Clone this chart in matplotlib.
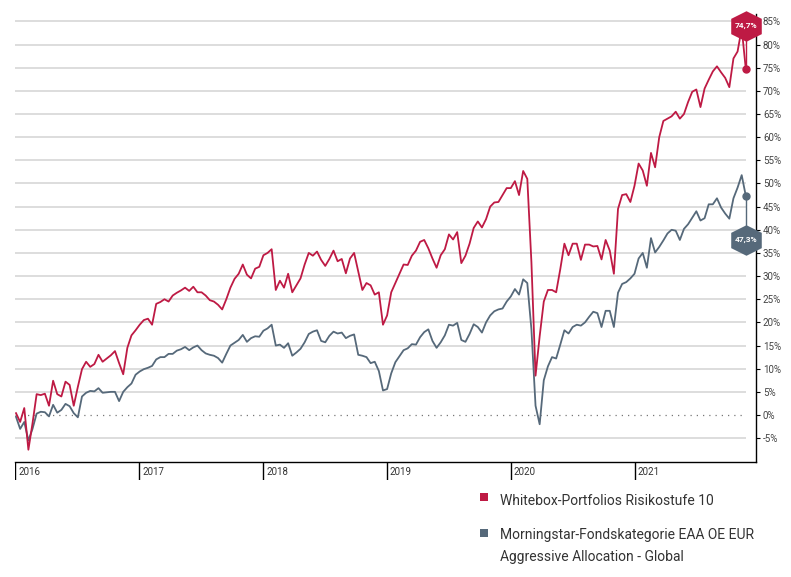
import pandas as pd
import matplotlib
matplotlib.use('Agg')
import matplotlib.pyplot as plt
from matplotlib.patches import Rectangle

plt.rcParams['font.family'] = ['Roboto', 'DejaVu Sans']

# performance in %, roughly every 12 days
red_2016 = [0.4, -1.5, 1.5, -7.5, -1.8, 4.5, 4.3, 4.6, 2.0, 7.4, 4.5, 4.0, 7.2, 6.5, 2.0,
            6.1, 9.9, 11.5, 10.4, 11.0, 13.0, 11.5, 12.2, 12.9, 13.8, 11.2, 8.8, 14.5, 17.2, 18.3]
red_2017 = [19.5, 20.5, 20.8, 19.5, 24.0, 24.4, 25.0, 24.5, 25.8, 26.4, 26.9, 27.5, 26.8, 27.7, 26.5,
            26.5, 25.8, 24.8, 24.5, 23.8, 22.8, 25.0, 27.5, 29.4, 30.5, 32.5, 30.3, 29.5, 31.6, 32.0]
red_2018 = [34.5, 35.0, 35.8, 27.0, 29.0, 27.5, 30.5, 26.5, 28.0, 29.5, 32.5, 35.0, 34.4, 35.3, 33.5,
            32.2, 33.7, 35.5, 33.2, 33.7, 30.6, 33.8, 35.0, 31.0, 27.0, 28.5, 28.0, 26.0, 26.5, 19.5]
red_2019 = [21.5, 26.5, 28.5, 30.5, 32.5, 32.4, 34.4, 35.5, 37.4, 37.8, 36.0, 33.8, 31.8, 34.5, 35.8,
            39.0, 37.9, 39.5, 32.8, 34.4, 37.0, 40.4, 41.8, 40.5, 42.3, 45.0, 45.9, 46.0, 47.5, 49.0]
red_2020 = [49.0, 50.5, 47.5, 52.7, 51.0, 33.0, 8.5, 17.0, 24.5, 27.0, 27.0, 26.5, 31.5, 37.0, 34.5,
            37.0, 37.0, 33.5, 36.8, 36.8, 36.4, 36.5, 33.6, 37.8, 35.5, 30.5, 44.5, 47.5, 47.7, 46.0]
red_2021 = [49.5, 54.3, 52.8, 49.5, 56.6, 53.5, 60.0, 63.5, 64.0, 64.5, 65.5, 64.0, 65.0, 67.6,
            69.8, 70.3, 66.5, 70.5, 72.4, 74.2, 75.3, 74.0, 72.8, 70.8, 77.0, 78.5, 83.5, 74.7]

blue_2016 = [-0.4, -3.0, -1.5, -5.5, -3.0, 0.3, 0.7, 0.6, -0.3, 2.2, 0.5, 1.1, 2.4, 1.9, 0.4,
             -0.5, 4.0, 4.8, 5.2, 5.1, 5.8, 4.8, 4.9, 5.0, 5.0, 3.0, 5.0, 6.0, 6.8, 8.7]
blue_2017 = [9.4, 9.9, 10.2, 10.6, 12.0, 12.5, 12.5, 13.2, 13.2, 13.9, 14.2, 14.7, 14.0, 14.6, 15.0,
             14.0, 13.3, 13.0, 12.8, 12.3, 11.3, 13.2, 15.0, 15.6, 16.2, 17.3, 15.8, 16.6, 17.0, 16.9]
blue_2018 = [18.2, 18.7, 19.5, 15.0, 15.2, 14.5, 15.5, 12.8, 13.5, 14.3, 15.7, 17.5, 18.0, 18.3, 16.0,
             15.7, 17.1, 18.0, 17.6, 17.8, 16.6, 17.1, 17.4, 13.0, 12.8, 12.5, 11.2, 11.5, 9.5, 5.3]
blue_2019 = [5.6, 9.0, 11.4, 12.7, 14.0, 14.4, 15.3, 15.2, 16.8, 17.9, 18.5, 16.0, 14.5, 15.7, 17.2,
             19.5, 19.3, 19.9, 16.2, 15.8, 17.5, 19.6, 19.0, 17.8, 20.0, 21.5, 22.4, 22.8, 23.0, 24.5]
blue_2020 = [25.6, 27.2, 26.0, 29.3, 28.5, 18.5, 2.0, -2.0, 7.5, 10.5, 12.5, 12.2, 15.2, 18.3, 17.6,
             19.0, 19.5, 19.3, 20.0, 21.2, 22.3, 22.0, 19.0, 22.5, 22.5, 19.0, 26.4, 28.3, 28.7, 29.5]
blue_2021 = [30.5, 33.8, 35.0, 31.8, 38.2, 35.1, 36.3, 37.7, 39.2, 40.0, 39.8, 37.8, 40.2, 41.2,
             42.6, 44.0, 42.0, 42.5, 45.5, 45.5, 46.8, 44.8, 43.5, 42.4, 46.8, 49.1, 51.8, 47.3]

red = red_2016 + red_2017 + red_2018 + red_2019 + red_2020 + red_2021
blue = blue_2016 + blue_2017 + blue_2018 + blue_2019 + blue_2020 + blue_2021
dates = pd.date_range('2016-01-04', '2021-11-24', periods=len(red))

years = [2016, 2017, 2018, 2019, 2020, 2021]
yticks = list(range(-5, 90, 5))
legend_labels = ['Whitebox-Portfolios Risikostufe 10',
                 'Morningstar-Fondskategorie EAA OE EUR\nAggressive Allocation - Global']

RED = '#BE1A44'
BLUE = '#56697A'
W, H = 791, 577

fig = plt.figure(figsize=(W / 100, H / 100), dpi=100)
ax = fig.add_axes([15 / W, 1 - 462 / H, 741 / W, 448 / H])
x0, x1 = pd.Timestamp('2016-01-01'), pd.Timestamp('2021-12-24')
ax.set_xlim(x0, x1)
ax.set_ylim(-10.15, 86.6)

# grid lines only over the data range
for v in yticks:
    if v == 0:
        ax.hlines(0, x0, dates[-1], color='#777777', lw=0.9, linestyles=(0, (1, 4)), zorder=1)
    else:
        ax.hlines(v, x0, dates[-1], color='#DADADA', lw=1.3, zorder=1)

ax.plot(dates, blue, color=BLUE, lw=1.3, zorder=3)
ax.plot(dates, red, color=RED, lw=1.3, zorder=4)

for s in ['top', 'left', 'bottom']:
    ax.spines[s].set_visible(False)
ax.spines['right'].set_color('black')
ax.spines['right'].set_linewidth(1.0)
ax.yaxis.tick_right()
ax.set_yticks(yticks)
ax.set_yticklabels([f'{v}%' for v in yticks])
ax.tick_params(axis='y', length=3, width=0.8, pad=2, labelsize=7, labelcolor='#444444')
ax.set_xticks([])

# end markers with hexagon value labels
hexagon = [(0, 1), (1, 0.5), (1, -0.5), (0, -1), (-1, -0.5), (-1, 0.5), (0, 1)]
for series, color, label_y in [(red, RED, 84.1), (blue, BLUE, 37.8)]:
    last = series[-1]
    ax.plot([dates[-1], dates[-1]], [last, label_y], color=color, lw=1.0, zorder=5, clip_on=False)
    ax.plot(dates[-1], last, 'o', color=color, ms=5, zorder=6, clip_on=False)
    ax.plot(dates[-1], label_y, marker=hexagon, color=color, ms=22, mew=0, zorder=7, clip_on=False)
    ax.text(dates[-1], label_y, f'{last:.1f}%'.replace('.', ','), color='white', fontsize=6,
            fontweight='bold', ha='center', va='center', zorder=8)

# year band below the plot
axb = fig.add_axes([15 / W, 1 - 480 / H, 741 / W, 18 / H])
axb.set_xlim(x0, x1)
axb.set_ylim(0, 1)
axb.axis('off')
axb.axhline(1, color='black', lw=1.0, clip_on=False)
for yr in years:
    d = pd.Timestamp(f'{yr}-01-01')
    axb.axvline(d, color='black', lw=1.0)
    axb.text(d + pd.Timedelta(days=9), 0.45, str(yr), fontsize=7, color='#333333',
             ha='left', va='center')

# legend
for (color, label, ty) in [(RED, legend_labels[0], 501), (BLUE, legend_labels[1], 535)]:
    sq_y = ty - 8 if color == RED else ty - 6
    fig.add_artist(Rectangle((480 / W, 1 - (sq_y + 8) / H), 8 / W, 8 / H,
                             transform=fig.transFigure, color=color, lw=0))
    fig.text(500 / W, 1 - (ty - 7) / H, label, fontsize=10, color='#333333',
             ha='left', va='top', linespacing=1.75)

fig.savefig('out.png', dpi=100)
